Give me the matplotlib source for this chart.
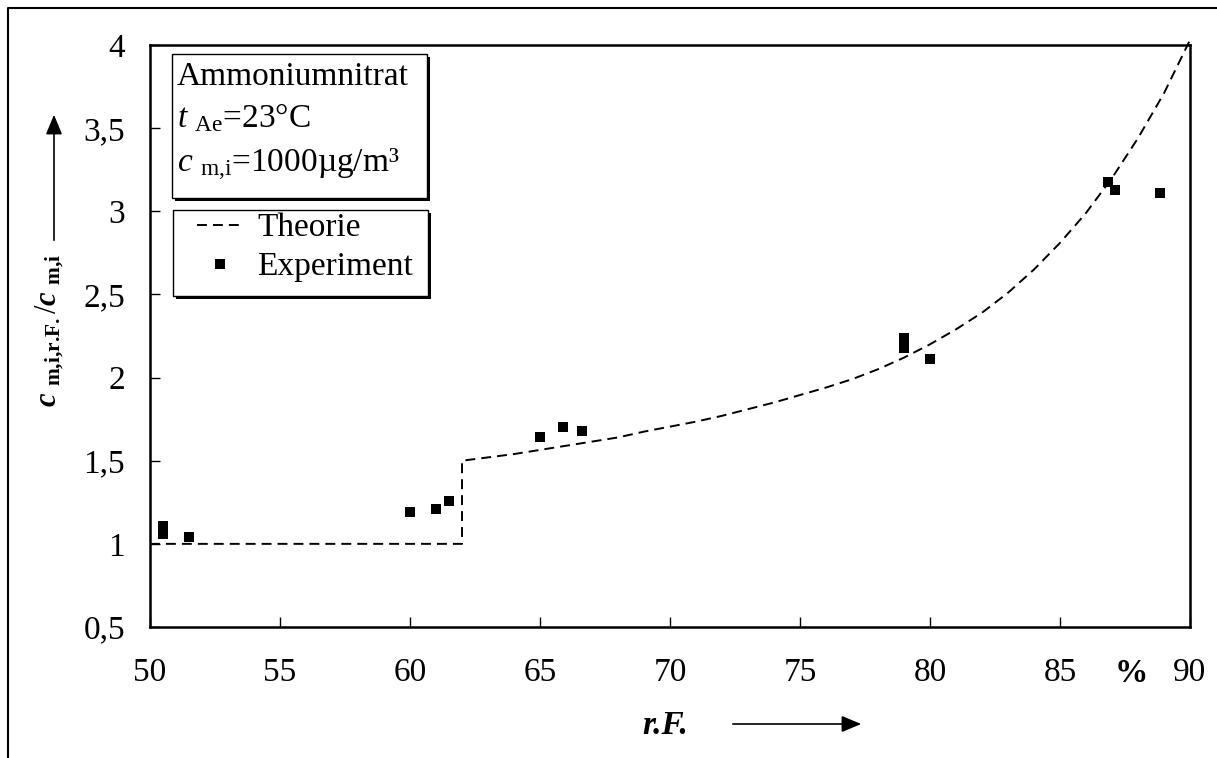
import matplotlib
matplotlib.use("Agg")
import matplotlib.pyplot as plt
from matplotlib.patches import Rectangle, FancyArrowPatch
from matplotlib.lines import Line2D

plt.rcParams['font.family'] = ['Liberation Serif', 'DejaVu Serif']
plt.rcParams['mathtext.fontset'] = 'custom'
plt.rcParams['mathtext.rm'] = 'Liberation Serif'
plt.rcParams['mathtext.it'] = 'Liberation Serif:italic'
plt.rcParams['mathtext.bf'] = 'Liberation Serif:bold'
plt.rcParams['mathtext.bfit'] = 'Liberation Serif:italic:bold'

# theory curve (r.F. in %, ratio)
theorie_rf = [50, 62, 62, 63, 64, 65, 66, 67, 68, 69, 70, 71, 72, 73, 74, 75,
              76, 77, 78, 79, 80, 81, 82, 83, 84, 85, 86, 87, 88, 89, 90]
theorie_val = [1.0, 1.0, 1.50, 1.52, 1.54, 1.565, 1.59, 1.615, 1.64, 1.675,
               1.705, 1.735, 1.77, 1.81, 1.85, 1.895, 1.94, 1.99, 2.05, 2.12,
               2.20, 2.29, 2.39, 2.51, 2.65, 2.81, 2.99, 3.20, 3.44, 3.71, 4.03]

# measured points
exp_rf = [50.5, 50.5, 51.5, 60.0, 61.0, 61.5, 65.0, 65.9, 66.6,
          79.0, 79.0, 80.0, 86.85, 87.1, 88.85]
exp_val = [1.11, 1.06, 1.04, 1.19, 1.21, 1.26, 1.645, 1.70, 1.68,
           2.24, 2.18, 2.11, 3.175, 3.13, 3.11]

x_ticks = [50, 55, 60, 65, 70, 75, 80, 85, 90]
y_ticks = [0.5, 1, 1.5, 2, 2.5, 3, 3.5, 4]
y_ticklabels = ['0,5', '1', '1,5', '2', '2,5', '3', '3,5', '4']

W, H = 1217, 758
FS = 24

fig = plt.figure(figsize=(W / 100, H / 100), dpi=100)
ax = fig.add_axes([150 / W, 1 - 627 / H, (1190 - 150) / W, (627 - 45) / H])


def px(x, y):
    # pixel coords (top-left origin) -> figure fraction
    return x / W, 1 - y / H


def shadow_box(x0, y0, x1, y1):
    fx0, fy1 = px(x0, y0)
    fx1, fy0 = px(x1, y1)
    off = 3 / W, 3 / H
    fig.patches.append(Rectangle((fx0 + off[0], fy0 - off[1]), fx1 - fx0, fy1 - fy0,
                                 transform=fig.transFigure, facecolor='black',
                                 edgecolor='black', lw=0, zorder=5))
    fig.patches.append(Rectangle((fx0, fy0), fx1 - fx0, fy1 - fy0,
                                 transform=fig.transFigure, facecolor='white',
                                 edgecolor='black', lw=1.0, zorder=6))


ax.plot(theorie_rf, theorie_val, color='black', lw=1.4, dashes=(5.1, 3.1),
        clip_on=False, label='Theorie', zorder=3)
ax.plot(exp_rf, exp_val, ls='none', marker='s', ms=7.5, mew=0, color='black',
        label='Experiment', zorder=4)

ax.set_xlim(50, 90)
ax.set_ylim(0.5, 4)
ax.set_xticks(x_ticks)
ax.set_xticklabels([str(v) for v in x_ticks])
ax.set_yticks(y_ticks)
ax.set_yticklabels(y_ticklabels)
ax.tick_params(direction='in', length=7, width=1, labelsize=FS, colors='black')
ax.tick_params(axis='y', pad=18)
ax.tick_params(axis='x', pad=22)
for s in ax.spines.values():
    s.set_linewidth(1.8)

# % unit between 85 and 90
ax.annotate('%', xy=(87.75, 0), xycoords=('data', 'axes fraction'),
            xytext=(0, -22), textcoords='offset points', ha='center', va='top',
            fontsize=FS, fontweight='bold')

# outer frame
fig.lines.append(Line2D([8 / W, 8 / W, 1.0], [0.0, 1 - 8 / H, 1 - 8 / H],
                        transform=fig.transFigure, color='black', lw=1.5))

# info box
shadow_box(172, 54, 427, 198)
fig.text(*px(177, 85), 'Ammoniumnitrat', fontsize=FS, va='baseline', zorder=7)
fig.text(*px(177, 127), r'$\mathit{t}\ {}_{\mathrm{Ae}}$=23°C', fontsize=FS,
         va='baseline', zorder=7)
fig.text(*px(177, 172), r'$\mathit{c}\ {}_{\mathrm{m{,}i}}$=1000µg/m³', fontsize=FS,
         va='baseline', zorder=7)

# legend box
shadow_box(173, 210, 428, 296)
leg = fig.legend(*ax.get_legend_handles_labels(), loc='upper left',
                 bbox_to_anchor=px(197, 213), frameon=False, borderpad=0,
                 borderaxespad=0, handlelength=1.4, handletextpad=0.4,
                 labelspacing=0.25, fontsize=FS)
leg.set_zorder(7)

# axis labels with arrows
fig.text(*px(50, 330),
         r'$\mathbfit{c}\ {}_{\mathbf{m{,}i{,}r{.}\!F{.}}}/\mathbfit{c}\ {}_{\mathbf{m{,}i}}$',
         rotation=90, fontsize=22, ha='center', va='center')
fig.add_artist(FancyArrowPatch(
    px(54, 243), px(54, 112), transform=fig.transFigure,
    arrowstyle='-|>,head_length=12,head_width=5', mutation_scale=1,
    color='black', lw=1.2))

fig.text(*px(665, 726), 'r.F.', fontsize=FS, fontweight='bold', fontstyle='italic',
         ha='center', va='center')
fig.add_artist(FancyArrowPatch(
    px(730, 724), px(864, 724), transform=fig.transFigure,
    arrowstyle='-|>,head_length=12,head_width=5', mutation_scale=1,
    color='black', lw=1.2))

fig.savefig('out.png', dpi=100)
